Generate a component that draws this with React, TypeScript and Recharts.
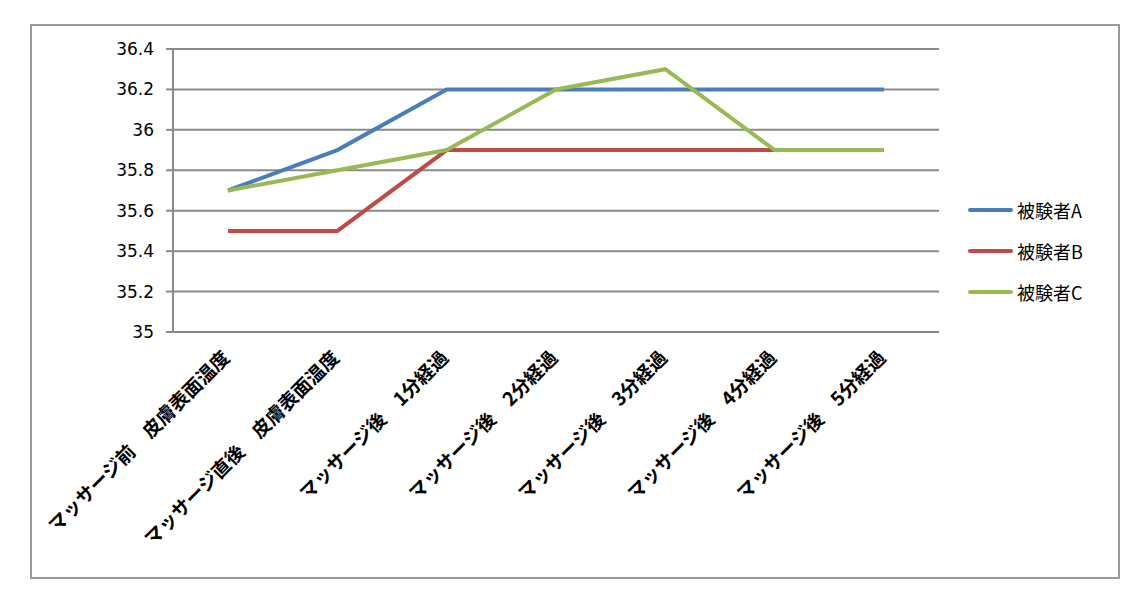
import React from 'react';
import { LineChart, Line, XAxis, YAxis, CartesianGrid, Legend } from 'recharts';

const categories = [
  'マッサージ前　皮膚表面温度',
  'マッサージ直後　皮膚表面温度',
  'マッサージ後　1分経過',
  'マッサージ後　2分経過',
  'マッサージ後　3分経過',
  'マッサージ後　4分経過',
  'マッサージ後　5分経過',
];
const seriesA = [35.7, 35.9, 36.2, 36.2, 36.2, 36.2, 36.2];
const seriesB = [35.5, 35.5, 35.9, 35.9, 35.9, 35.9, 35.9];
const seriesC = [35.7, 35.8, 35.9, 36.2, 36.3, 35.9, 35.9];
const seriesNames = ['被験者A', '被験者B', '被験者C'];
const colors = ['#4a7ebb', '#be4b48', '#98b954'];
const yTicks = [35, 35.2, 35.4, 35.6, 35.8, 36, 36.2, 36.4];
const boundaryTicks = [0, 1, 2, 3, 4, 5, 6, 7];

const data = categories.map((c, i) => ({
  cat: c,
  A: seriesA[i],
  B: seriesB[i],
  C: seriesC[i],
}));

const GRAY = '#8a8a8a';

const CatTick = (props: any) => {
  const { x, y, payload } = props;
  const tx = x + 3;
  const ty = y + 19;
  return (
    <text
      x={tx}
      y={ty}
      transform={`rotate(-45, ${tx}, ${ty})`}
      textAnchor="end"
      fontFamily="'Noto Sans CJK JP', sans-serif"
      fontSize={19}
      fontWeight={700}
      fill="#000"
    >
      {payload.value}
    </text>
  );
};

const LegendContent = () => (
  <div style={{ display: 'flex', flexDirection: 'column' }}>
    {seriesNames.map((n, i) => (
      <div key={n} style={{ display: 'flex', alignItems: 'center', height: 41 }}>
        <div style={{ width: 45, height: 4, background: colors[i], borderRadius: 2, marginRight: 4 }} />
        <span style={{ fontFamily: "'Noto Sans CJK JP', sans-serif", fontSize: 18, color: '#000' }}>{n}</span>
      </div>
    ))}
  </div>
);

export default function App() {
  return (
    <div style={{ position: 'absolute', left: 0, top: 0, width: 1148, height: 599, background: '#fff' }}>
      <div
        style={{
          position: 'absolute',
          left: 30,
          top: 24,
          width: 1090,
          height: 555,
          boxSizing: 'border-box',
          border: '2px solid #9a9a9a',
        }}
      />
      <div style={{ position: 'absolute', left: 0, top: 0 }}>
        <LineChart
          width={1148}
          height={599}
          data={data}
          margin={{ top: 49, right: 49, bottom: 47, left: 113 }}
        >
          <CartesianGrid vertical={false} stroke={GRAY} strokeWidth={2} />
          <XAxis
            xAxisId="bounds"
            type="number"
            domain={[0, 7]}
            ticks={boundaryTicks}
            allowDataOverflow
            height={0}
            tick={false}
            tickSize={6}
            stroke={GRAY}
            strokeWidth={2}
          />
          <XAxis
            dataKey="cat"
            height={220}
            interval={0}
            padding={{ left: 55, right: 55 }}
            tick={<CatTick />}
            tickLine={false}
            axisLine={false}
          />
          <YAxis
            domain={[35, 36.4]}
            ticks={yTicks}
            width={60}
            interval={0}
            tickSize={7}
            tickMargin={12}
            stroke={GRAY}
            strokeWidth={2}
            tick={{ fill: '#000', fontSize: 17, fontFamily: "'DejaVu Sans', sans-serif" }}
          />
          <Legend
            layout="vertical"
            verticalAlign="top"
            align="right"
            content={<LegendContent />}
            wrapperStyle={{ position: 'absolute', left: 968, top: 189, width: 160 }}
          />
          <Line dataKey="A" name={seriesNames[0]} stroke={colors[0]} strokeWidth={4} dot={false} isAnimationActive={false} />
          <Line dataKey="B" name={seriesNames[1]} stroke={colors[1]} strokeWidth={4} dot={false} isAnimationActive={false} />
          <Line dataKey="C" name={seriesNames[2]} stroke={colors[2]} strokeWidth={4} dot={false} isAnimationActive={false} />
        </LineChart>
      </div>
    </div>
  );
}
